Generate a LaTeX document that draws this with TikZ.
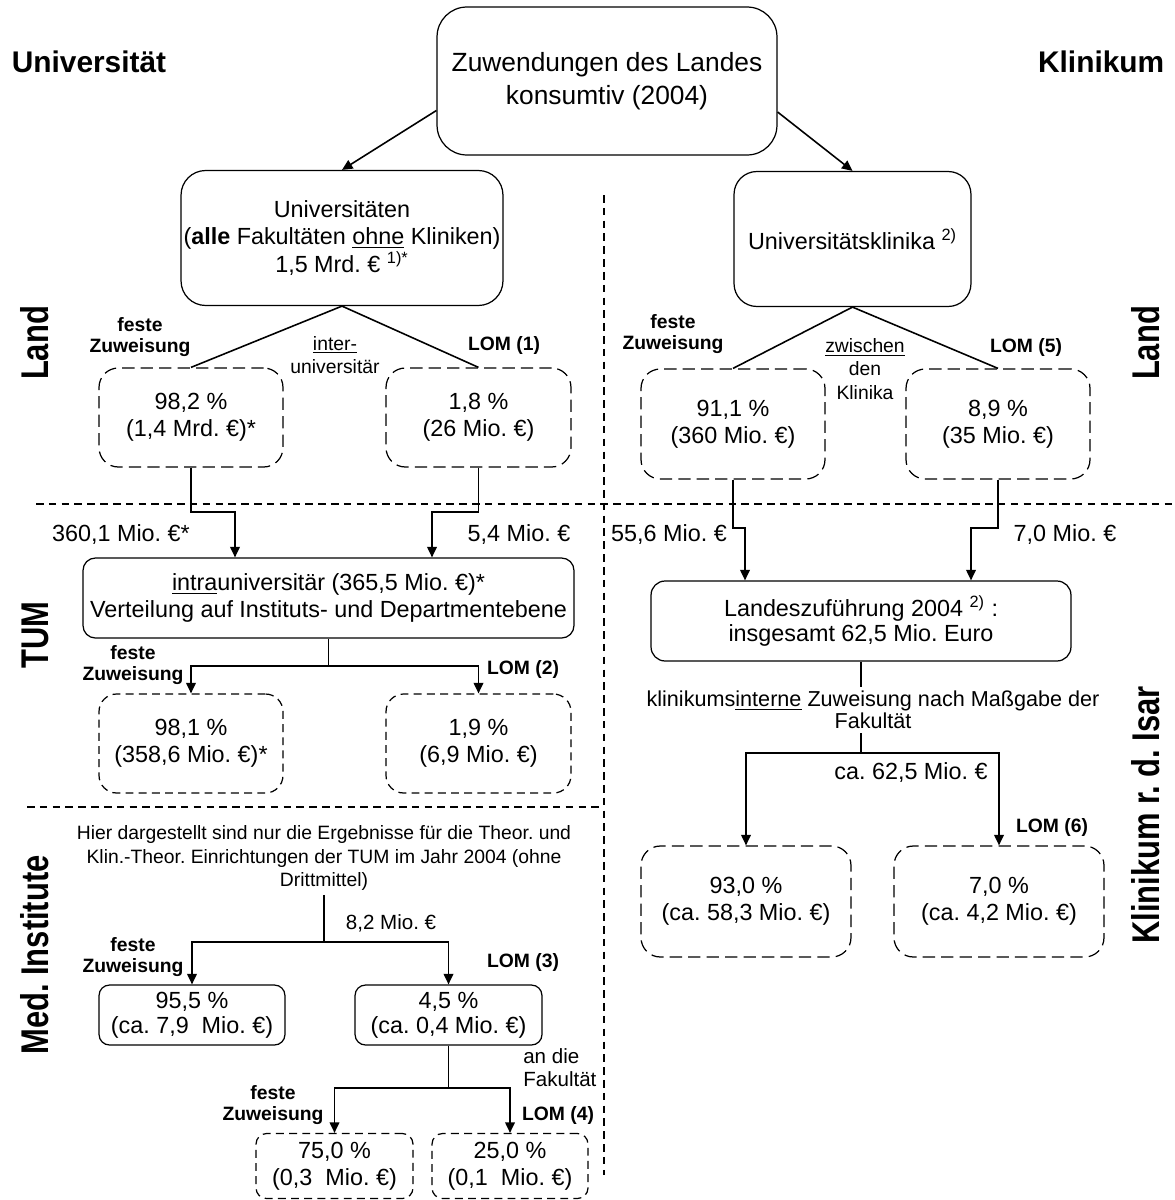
\documentclass[tikz,border=0pt]{standalone}
\usepackage{fontspec}
\setmainfont{Liberation Sans}
\newfontfamily\SideFont{Liberation Sans}[FakeStretch=0.8]
\usepackage{tikz}
\usetikzlibrary{arrows.meta,positioning,calc}
\frenchspacing
\tikzstyle{SolidBox}=[draw,rectangle,align=center,inner sep=0pt,line width=0.7pt,font=\fontsize{13.3}{15.5}\selectfont]
\tikzstyle{DashedBox}=[SolidBox,dash pattern=on 7pt off 3.5pt]
\tikzstyle{FineDashedBox}=[SolidBox,dash pattern=on 4.5pt off 3pt]
\tikzstyle{SplitLabel}=[align=center,font=\fontsize{11}{11.5}\selectfont\bfseries,inner sep=1pt]
\tikzstyle{AmountLabel}=[font=\fontsize{13.3}{15.5}\selectfont,inner sep=1pt]
\tikzstyle{NoteLabel}=[align=center,font=\fontsize{11}{13.4}\selectfont,inner sep=2pt]
\tikzstyle{SectionLabel}=[font=\fontsize{17}{20}\selectfont\bfseries,inner sep=0pt]
\tikzstyle{LevelLabel}=[rotate=90,font=\SideFont\bfseries\fontsize{22}{26}\selectfont,inner sep=0pt]
\tikzstyle{Divider}=[line width=0.6pt,dash pattern=on 4.3pt off 3pt]

\begin{document}
\begin{tikzpicture}[x=0.02cm,y=-0.02cm,>={Triangle[length=6pt,width=5.5pt]},line width=0.9pt]
  \useasboundingbox (0,0) rectangle (1175,1200);

  % headings and levels
  \node[SectionLabel,anchor=west](UniHeading) at (11,62){Universität};
  \node[SectionLabel,anchor=east](KlinHeading) at (1165,62){Klinikum};
  \node[LevelLabel](LandLeft) at (35,343){Land};
  \node[LevelLabel](TUMLevel) at (35,635){TUM};
  \node[LevelLabel](MedLevel) at (35,955){Med. Institute};
  \node[LevelLabel](LandRight) at (1146,343){Land};
  \node[LevelLabel](KlinLevel) at (1146,815){Klinikum r. d. Isar};

  \draw[Divider] (36,504) -- (1175,504);
  \draw[Divider] (27,807) -- (604,807);
  \draw[Divider] (604,195) -- (604,1175);

  % Land
  \node[SolidBox,rounded corners=17pt,minimum width=6.8cm,minimum height=2.96cm,font=\fontsize{15}{19}\selectfont](Zuwendungen) at (607,81){Zuwendungen des Landes\\konsumtiv (2004)};
  \node[SolidBox,rounded corners=14pt,minimum width=6.44cm,minimum height=2.7cm](Universitaeten) at (342,238){Universitäten\\(\textbf{alle} Fakultäten \underline{ohne} Kliniken)\\1,5 Mrd. € \textsuperscript{1)*}};
  \node[SolidBox,rounded corners=13pt,minimum width=4.74cm,minimum height=2.7cm](Klinika) at (852.5,239){Universitätsklinika \textsuperscript{2)}};

  \node[DashedBox,rounded corners=11pt,minimum width=3.68cm,minimum height=1.98cm](UniFest) at (191,417.5){98,2 \%\\(1,4 Mrd. €)*};
  \node[DashedBox,rounded corners=11pt,minimum width=3.7cm,minimum height=1.98cm](UniLOM) at (478.5,417.5){1,8 \%\\(26 Mio. €)};
  \node[DashedBox,rounded corners=11pt,minimum width=3.68cm,minimum height=2.2cm](KliFest) at (733,424){91,1 \%\\(360 Mio. €)};
  \node[DashedBox,rounded corners=11pt,minimum width=3.68cm,minimum height=2.2cm](KliLOM) at (998,424){8,9 \%\\(35 Mio. €)};

  \node[SplitLabel](UniFestLabel) at (140,337){feste\\Zuweisung};
  \node[NoteLabel](InterLabel) at (335,355){\underline{inter-}\\universitär};
  \node[SplitLabel](UniLOMLabel) at (504,345){LOM (1)};
  \node[SplitLabel](KliFestLabel) at (673,334){feste\\Zuweisung};
  \node[NoteLabel](BetweenLabel) at (865,369){\underline{zwischen}\\den\\Klinika};
  \node[SplitLabel](KliLOMLabel) at (1026,347){LOM (5)};

  \draw[->] ([yshift=-0.59cm]Zuwendungen.west) -- (Universitaeten.north);
  \draw[->] ([yshift=-0.62cm]Zuwendungen.east) -- (Klinika.north);
  \draw (Universitaeten.south) -- (UniFest.north);
  \draw (Universitaeten.south) -- (UniLOM.north);
  \draw (Klinika.south) -- (KliFest.north);
  \draw (Klinika.south) -- (KliLOM.north);

  % TUM
  \node[SolidBox,rounded corners=7pt,minimum width=9.82cm,minimum height=1.6cm](TUMBox) at (328.5,598){\underline{intra}universitär (365,5 Mio. €)*\\Verteilung auf Instituts- und Departmentebene};
  \node[FineDashedBox,rounded corners=10pt,minimum width=3.68cm,minimum height=1.98cm](TUMFest) at (191,743.5){98,1 \%\\(358,6 Mio. €)*};
  \node[FineDashedBox,rounded corners=10pt,minimum width=3.7cm,minimum height=1.98cm](TUMLOM) at (478.5,743.5){1,9 \%\\(6,9 Mio. €)};

  \node[AmountLabel](UniFestAmount) at (121,535){360,1 Mio. €*};
  \node[AmountLabel](UniLOMAmount) at (519,535){5,4 Mio. €};
  \node[SplitLabel](TUMFestLabel) at (133,665){feste\\Zuweisung};
  \node[SplitLabel](TUMLOMLabel) at (523,669){LOM (2)};

  \coordinate (UniFestStep) at (235,512);
  \coordinate (UniLOMStep) at (432,512);
  \draw[->] (UniFest.south) |- (UniFestStep) -- (UniFestStep |- TUMBox.north);
  \draw[->] (UniLOM.south) |- (UniLOMStep) -- (UniLOMStep |- TUMBox.north);
  \coordinate (TUMSplit) at (328.5,666);
  \draw (TUMBox.south) -- (TUMSplit);
  \draw[->] (TUMSplit) -| (TUMFest.north);
  \draw[->] (TUMSplit) -| (TUMLOM.north);

  % Med. Institute
  \node[NoteLabel](MedHint) at (324,858){Hier dargestellt sind nur die Ergebnisse für die Theor. und\\Klin.-Theor. Einrichtungen der TUM im Jahr 2004 (ohne\\Drittmittel)};
  \node[SolidBox,rounded corners=6pt,minimum width=3.72cm,minimum height=1.2cm,font=\fontsize{13.3}{14.2}\selectfont](MedFest) at (192,1015){95,5 \%\\(ca. 7,9\ \ Mio. €)};
  \node[SolidBox,rounded corners=6pt,minimum width=3.74cm,minimum height=1.2cm,font=\fontsize{13.3}{14.2}\selectfont](MedLOM) at (448.5,1015){4,5 \%\\(ca. 0,4 Mio. €)};
  \node[FineDashedBox,rounded corners=6pt,minimum width=3.14cm,minimum height=1.3cm](FakFest) at (334.5,1166){75,0 \%\\(0,3\ \ Mio. €)};
  \node[FineDashedBox,rounded corners=6pt,minimum width=3.12cm,minimum height=1.3cm](FakLOM) at (510,1166){25,0 \%\\(0,1\ \ Mio. €)};

  \node[NoteLabel,font=\fontsize{11.7}{13}\selectfont](MedAmount) at (391,923){8,2 Mio. €};
  \node[SplitLabel](MedFestLabel) at (133,957){feste\\Zuweisung};
  \node[SplitLabel](MedLOMLabel) at (523,962){LOM (3)};
  \node[NoteLabel,align=left,anchor=west,font=\fontsize{11.7}{13}\selectfont](FacultyLabel) at (519,1068){an die\\Fakultät};
  \node[SplitLabel](FakFestLabel) at (273,1105){feste\\Zuweisung};
  \node[SplitLabel](FakLOMLabel) at (558,1115){LOM (4)};

  \coordinate (MedSplit) at (MedHint.south |- 0,942);
  \draw (MedHint.south) -- (MedSplit);
  \draw[->] (MedSplit) -| (MedFest.north);
  \draw[->] (MedSplit) -| (MedLOM.north);
  \coordinate (FakSplit) at (MedLOM.south |- 0,1088);
  \draw (MedLOM.south) -- (FakSplit);
  \draw[->] (FakSplit) -| (FakFest.north);
  \draw[->] (FakSplit) -| (FakLOM.north);

  % Klinikum r. d. Isar
  \node[SolidBox,rounded corners=8pt,minimum width=8.4cm,minimum height=1.6cm,font=\fontsize{13.3}{14.5}\selectfont](Landes) at (861,621){Landeszuführung 2004 \textsuperscript{2)} :\\insgesamt 62,5 Mio. Euro};
  \node[DashedBox,rounded corners=11pt,minimum width=4.2cm,minimum height=2.22cm](KlinFest) at (746,901.5){93,0 \%\\(ca. 58,3 Mio. €)};
  \node[DashedBox,rounded corners=11pt,minimum width=4.2cm,minimum height=2.22cm](KlinLOM) at (999,901.5){7,0 \%\\(ca. 4,2 Mio. €)};

  \node[AmountLabel](KliFestAmount) at (669,535){55,6 Mio. €};
  \node[AmountLabel](KliLOMAmount) at (1065,535){7,0 Mio. €};
  \node[NoteLabel,font=\fontsize{12.3}{12.5}\selectfont](InternLabel) at (873,710){klinikums\underline{interne} Zuweisung nach Maßgabe der\\Fakultät};
  \node[AmountLabel](KlinAmount) at (911,773){ca. 62,5 Mio. €};
  \node[SplitLabel](KlinLOMLabel) at (1052,827){LOM (6)};

  \coordinate (KliFestStep) at (745,528);
  \coordinate (KliLOMStep) at (971,528);
  \draw[->] (KliFest.south) |- (KliFestStep) -- (KliFestStep |- Landes.north);
  \draw[->] (KliLOM.south) |- (KliLOMStep) -- (KliLOMStep |- Landes.north);
  \draw (Landes.south) -- (Landes.south |- InternLabel.north);
  \coordinate (KlinSplit) at (Landes.south |- 0,753);
  \draw (Landes.south |- InternLabel.south) -- (KlinSplit);
  \draw[->] (KlinSplit) -| (KlinFest.north);
  \draw[->] (KlinSplit) -| (KlinLOM.north);

\end{tikzpicture}
\end{document}
